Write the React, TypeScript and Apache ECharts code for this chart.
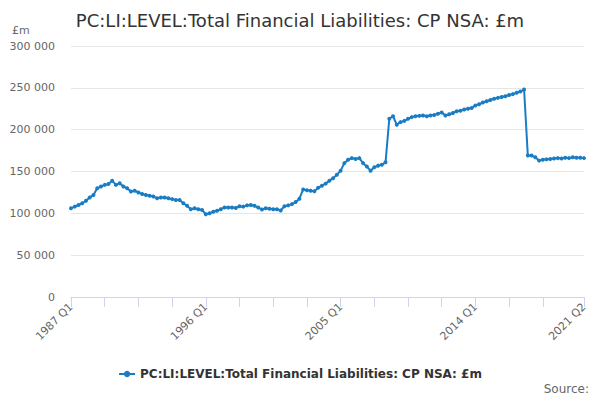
import React, { useEffect, useRef } from "react";
import * as echarts from "echarts";

const TITLE = "PC:LI:LEVEL:Total Financial Liabilities: CP NSA: £m";
const SERIES_NAME = "PC:LI:LEVEL:Total Financial Liabilities: CP NSA: £m";

const START_YEAR = 1987;
const QUARTER_COUNT = 138; // 1987 Q1 .. 2021 Q2
const categories: string[] = [];
for (let i = 0; i < QUARTER_COUNT; i++) {
  categories.push(`${START_YEAR + Math.floor(i / 4)} Q${(i % 4) + 1}`);
}

const values: number[] = [
  106000, 108000, 110000, 112000, 115000, 119000, 122000, 130000, 132000, 134000,
  135000, 139000, 134000, 136000, 132000, 130000, 126000, 127000, 125000, 123000,
  122000, 121000, 120000, 118000, 119000, 119000, 118000, 117000, 116000, 116000,
  112000, 109000, 105000, 106000, 105000, 104000, 99000, 100000, 102000, 103000,
  105000, 107000, 107000, 107000, 106500, 108500, 108000, 109500, 110000, 109000,
  107000, 104500, 106000, 105500, 105000, 105000, 103500, 108500, 109500, 111000,
  113500, 117500, 128500, 127500, 127000, 126500, 130500, 133000, 135500, 139000,
  142000, 146000, 151000, 160000, 164000, 166000, 165000, 166000, 160000, 156000,
  151000, 155000, 157000, 158000, 161000, 213000, 216000, 206000, 209000, 210500,
  213000, 215000, 216000, 216500, 217000, 216000, 217000, 217500, 219000, 220500,
  217000, 218500, 220000, 222000, 222500, 224000, 225000, 226000, 229000, 230500,
  232500, 234000, 235500, 237000, 238000, 239000, 240000, 241500, 242500, 244000,
  245500, 248000, 169000, 169000, 167000, 163000, 164000, 164500, 165000, 165500,
  166000, 165500, 166500, 166000, 167000, 166500, 166500, 166000,
];

const Y_MIN = 0;
const Y_MAX = 300000;
const Y_STEP = 50000;

const FONT = "'DejaVu Sans', sans-serif";
const LINE_COLOR = "#1a7dc3";
const AXIS_COLOR = "#ccd6eb";

function fmt(v: number): string {
  return String(v).replace(/\B(?=(\d{3})+(?!\d))/g, " ");
}

export default function App() {
  const ref = useRef<HTMLDivElement>(null);
  useEffect(() => {
    if (!ref.current) return;
    const chart = echarts.init(ref.current, undefined, { renderer: "svg" });
    const last = categories.length - 1;
    chart.setOption({
      animation: false,
      textStyle: { fontFamily: FONT },
      title: {
        text: TITLE,
        left: "center",
        top: 6,
        textStyle: { fontFamily: FONT, fontSize: 18, fontWeight: "normal", color: "#333333" },
      },
      grid: { left: 71, right: 16, top: 46, bottom: 103, containLabel: false },
      legend: {
        top: 363,
        left: "center",
        itemWidth: 16,
        itemHeight: 8,
        itemGap: 10,
        textStyle: { fontFamily: FONT, fontSize: 12, fontWeight: "bold", color: "#333333" },
        data: [SERIES_NAME],
      },
      graphic: [
        {
          type: "text",
          left: 12,
          top: 25,
          style: { text: "£m", fontFamily: FONT, fontSize: 11, fill: "#666666" },
        },
        {
          type: "text",
          right: 11,
          top: 383,
          style: { text: "Source:", fontFamily: FONT, fontSize: 12, fill: "#666666" },
        },
      ],
      xAxis: {
        type: "category",
        data: categories,
        boundaryGap: false,
        axisLine: { lineStyle: { color: AXIS_COLOR, width: 1 } },
        axisTick: {
          length: 10,
          lineStyle: { color: AXIS_COLOR },
          interval: (idx: number) => (idx % 9 === 0 && idx <= 126) || idx === last,
        },
        axisLabel: {
          rotate: 45,
          color: "#666666",
          fontSize: 11,
          fontFamily: FONT,
          margin: 8,
          interval: (idx: number) => idx % 36 === 0 || idx === last,
        },
        splitLine: { show: false },
      },
      yAxis: {
        type: "value",
        min: Y_MIN,
        max: Y_MAX,
        interval: Y_STEP,
        axisLine: { show: false },
        axisTick: { show: false },
        axisLabel: {
          color: "#666666",
          fontSize: 11,
          fontFamily: FONT,
          margin: 16,
          formatter: (v: number) => fmt(v),
        },
        splitLine: { lineStyle: { color: "#e6e6e6", width: 1 } },
      },
      series: [
        {
          name: SERIES_NAME,
          type: "line",
          data: values,
          symbol: "circle",
          symbolSize: 4,
          showSymbol: true,
          showAllSymbol: true,
          color: LINE_COLOR,
          lineStyle: { width: 2, color: LINE_COLOR },
          itemStyle: { color: LINE_COLOR },
        },
      ],
    });
    return () => chart.dispose();
  }, []);
  return <div ref={ref} style={{ width: 600, height: 400, position: "absolute", left: 0, top: 0 }} />;
}
